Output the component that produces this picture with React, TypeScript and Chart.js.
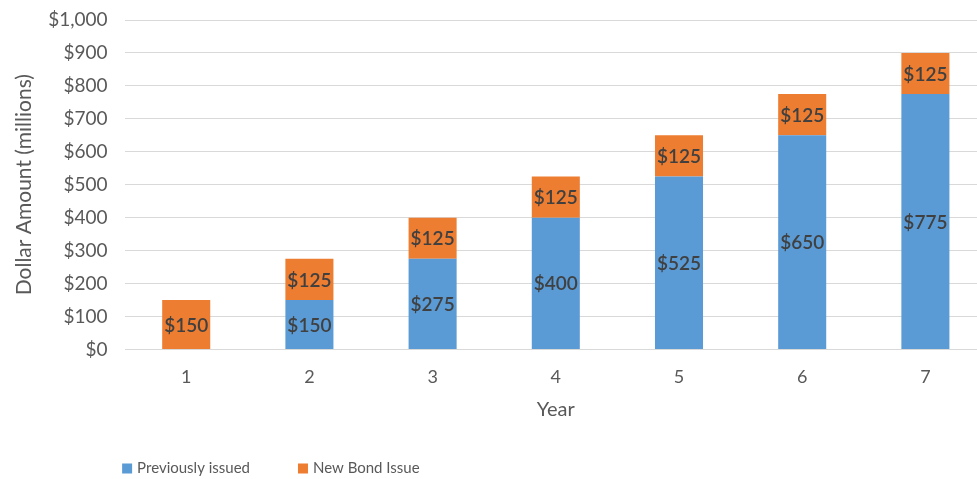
import React, { useEffect, useRef } from "react";
import { Chart, registerables } from "chart.js";

Chart.register(...registerables);

const years = ["1", "2", "3", "4", "5", "6", "7"];
const previouslyIssued = [0, 150, 275, 400, 525, 650, 775];
const newBondIssue = [150, 125, 125, 125, 125, 125, 125];
const yTicks = [0, 100, 200, 300, 400, 500, 600, 700, 800, 900, 1000];

const FONT = "Lato, 'Open Sans', sans-serif";

const fmt = (v: number) => "$" + v.toLocaleString("en-US");

const barLabels = {
  id: "barLabels",
  afterDatasetsDraw(chart: any) {
    const ctx = chart.ctx;
    ctx.save();
    ctx.font = `600 19px ${FONT}`;
    ctx.fillStyle = "#404040";
    ctx.textAlign = "center";
    ctx.textBaseline = "middle";
    chart.data.datasets.forEach((ds: any, di: number) => {
      const meta = chart.getDatasetMeta(di);
      meta.data.forEach((bar: any, i: number) => {
        const v = ds.data[i];
        if (!v) return;
        const { x, y, base } = bar.getProps(["x", "y", "base"], true);
        ctx.fillText(fmt(v), x, (y + base) / 2 + 1);
      });
    });
    ctx.restore();
  },
};

const bottomLegend = {
  id: "bottomLegend",
  afterDraw(chart: any) {
    const ctx = chart.ctx;
    ctx.save();
    ctx.font = `15px ${FONT}`;
    ctx.textBaseline = "middle";
    ctx.textAlign = "left";
    const cy = chart.height - 11;
    let x = chart.chartArea.left - 2.5;
    chart.data.datasets.forEach((ds: any) => {
      ctx.fillStyle = ds.backgroundColor;
      ctx.fillRect(x, cy - 4.5, 10, 10);
      ctx.fillStyle = "#595959";
      const tx = x + 15;
      ctx.fillText(ds.label, tx, cy);
      x = tx + ctx.measureText(ds.label).width + 48;
    });
    ctx.restore();
  },
};

export default function App() {
  const ref = useRef<HTMLCanvasElement>(null);
  useEffect(() => {
    if (!ref.current) return;
    const chart = new Chart(ref.current, {
      type: "bar",
      data: {
        labels: years,
        datasets: [
          {
            label: "Previously issued",
            data: previouslyIssued,
            backgroundColor: "#5B9BD5",
            categoryPercentage: 1,
            barPercentage: 0.39,
          },
          {
            label: "New Bond Issue",
            data: newBondIssue,
            backgroundColor: "#ED7D31",
            categoryPercentage: 1,
            barPercentage: 0.39,
          },
        ],
      },
      options: {
        animation: false,
        responsive: false,
        maintainAspectRatio: false,
        layout: { padding: { top: 0, right: 8, left: 12, bottom: 57 } },
        scales: {
          x: {
            stacked: true,
            afterFit: (scale: any) => {
              scale.height -= 17;
            },
            grid: { display: false, drawTicks: false },
            border: { display: false },
            ticks: { color: "#595959", font: { family: FONT, size: 18 }, padding: 17 },
            title: {
              display: true,
              text: "Year",
              color: "#595959",
              font: { family: FONT, size: 20 },
              padding: { top: 10, bottom: 0 },
            },
          },
          y: {
            stacked: true,
            min: 0,
            max: 1000,
            afterFit: (scale: any) => {
              scale.width -= 17;
              scale.paddingTop = 20;
            },
            afterBuildTicks: (axis: any) => {
              axis.ticks = yTicks.map((v) => ({ value: v }));
            },
            grid: { color: "#D9D9D9", lineWidth: 1, drawTicks: false },
            border: { display: false },
            ticks: {
              color: "#595959",
              font: { family: FONT, size: 19 },
              padding: 17,
              callback: (v: any) => fmt(Number(v)),
            },
            title: {
              display: true,
              text: "Dollar Amount (millions)",
              color: "#595959",
              font: { family: FONT, size: 21 },
              padding: { top: 0, bottom: 11 },
            },
          },
        },
        plugins: {
          legend: { display: false },
          tooltip: { enabled: false },
        },
      },
      plugins: [barLabels, bottomLegend],
    });
    return () => chart.destroy();
  }, []);
  return (
    <div style={{ position: "fixed", left: 0, top: 0, width: 995, height: 479, background: "#fff" }}>
      <canvas ref={ref} width={995} height={479} style={{ width: 995, height: 479 }} />
    </div>
  );
}
